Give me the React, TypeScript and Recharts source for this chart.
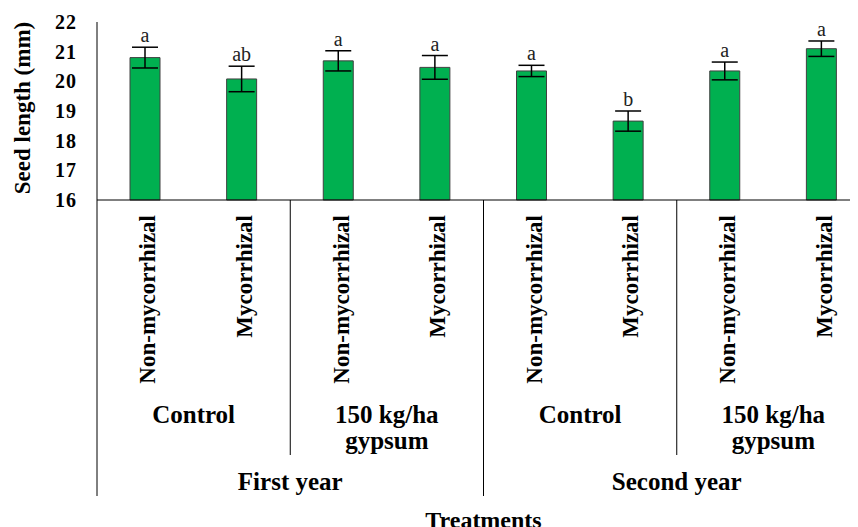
import { BarChart, Bar, XAxis, YAxis, ErrorBar, LabelList } from 'recharts';

// Seed length per treatment
const categories = [
  'Non-mycorrhizal', 'Mycorrhizal', 'Non-mycorrhizal', 'Mycorrhizal',
  'Non-mycorrhizal', 'Mycorrhizal', 'Non-mycorrhizal', 'Mycorrhizal',
];
const treatments = ['Control', '150 kg/ha\ngypsum', 'Control', '150 kg/ha\ngypsum'];
const years = ['First year', 'Second year'];
const seedLength = [20.8, 20.08, 20.69, 20.47, 20.35, 18.66, 20.35, 21.1];
const stdError = [0.35, 0.43, 0.34, 0.4, 0.19, 0.34, 0.3, 0.26];
const letters = ['a', 'ab', 'a', 'a', 'a', 'b', 'a', 'a'];
const yTicks = [16, 17, 18, 19, 20, 21, 22];

const data = categories.map((name, i) => ({
  name,
  value: seedLength[i],
  err: stdError[i],
  letter: letters[i],
}));

const FONT = '"Liberation Serif", "Times New Roman", serif';
const CHART_W = 880;
const CHART_H = 540;
const MARGIN = { top: 14, right: 18, bottom: 0, left: 0 };
const Y_AXIS_W = 89;
const X_AXIS_H = 348;
const PLOT_W = CHART_W - MARGIN.left - MARGIN.right - Y_AXIS_W;
const PLOT_H = CHART_H - MARGIN.top - MARGIN.bottom - X_AXIS_H;
const CAT_W = PLOT_W / categories.length;
const PX_PER_UNIT = PLOT_H / (yTicks[yTicks.length - 1] - yTicks[0]);

const CategoryTick = (props: any) => {
  const { x, y, payload } = props;
  const i = payload?.index ?? props.index ?? 0;
  const lx = x + 10;
  const ly = y + 15;
  const parts: any[] = [
    <text
      key="cat"
      x={lx}
      y={ly}
      transform={`rotate(-90 ${lx} ${ly})`}
      textAnchor="end"
      fontFamily={FONT}
      fontWeight="bold"
      fontSize={23}
      fill="#000"
    >
      {payload.value}
    </text>,
  ];

  if (i % 2 === 0) {
    const left = x - CAT_W / 2;
    const gx = x + CAT_W / 2;
    const lines = treatments[Math.floor(i / 2)].split('\n');
    lines.forEach((line, k) => {
      parts.push(
        <text
          key={`t${k}`}
          x={gx}
          y={y + 223 + k * 26}
          textAnchor="middle"
          fontFamily={FONT}
          fontWeight="bold"
          fontSize={25}
          fill="#000"
        >
          {line}
        </text>
      );
    });
    if (i % 4 !== 0) {
      parts.push(<line key="sd" x1={left} x2={left} y1={y} y2={y + 255} stroke="#000" strokeWidth={1} />);
    }
  }

  if (i % 4 === 0) {
    const left = x - CAT_W / 2;
    parts.push(<line key="ld" x1={left} x2={left} y1={y} y2={y + 296} stroke="#000" strokeWidth={1} />);
    parts.push(
      <text
        key="yr"
        x={x + 1.5 * CAT_W}
        y={y + 290}
        textAnchor="middle"
        fontFamily={FONT}
        fontWeight="bold"
        fontSize={25}
        fill="#000"
      >
        {years[Math.floor(i / 4)]}
      </text>
    );
  }

  return <g>{parts}</g>;
};

const LetterLabel = (props: any) => {
  const { x, y, width, value, index } = props;
  const err = stdError[index] ?? 0;
  return (
    <text
      x={x + width / 2}
      y={y - err * PX_PER_UNIT - 5}
      textAnchor="middle"
      fontFamily={FONT}
      fontSize={20}
      fill="#222"
    >
      {value}
    </text>
  );
};

export default function App() {
  return (
    <div style={{ width: 850, height: 519, overflow: 'hidden', background: '#fff' }}>
      <BarChart width={CHART_W} height={CHART_H} data={data} margin={MARGIN}>
        <XAxis
          dataKey="name"
          interval={0}
          height={X_AXIS_H}
          tickLine={false}
          tickSize={0}
          tickMargin={0}
          axisLine={{ stroke: '#000', strokeWidth: 1 }}
          tick={<CategoryTick />}
          label={{
            value: 'Treatments',
            position: 'insideBottom',
            offset: 20,
            fontFamily: FONT,
            fontWeight: 'bold',
            fontSize: 24,
            fill: '#000',
          }}
        />
        <YAxis
          width={Y_AXIS_W}
          domain={[16, 22]}
          ticks={yTicks}
          interval={0}
          tickLine={false}
          tickSize={0}
          tickMargin={20}
          axisLine={{ stroke: '#000', strokeWidth: 1 }}
          tick={{ fontFamily: FONT, fontWeight: 'bold', fontSize: 20, fill: '#000', letterSpacing: 1 }}
        />
        <text
          x={14}
          y={100}
          transform="rotate(-90 14 100)"
          textAnchor="middle"
          dominantBaseline="central"
          fontFamily={FONT}
          fontWeight="bold"
          fontSize={23}
          fill="#000"
        >
          Seed length (mm)
        </text>
        <Bar dataKey="value" fill="#00B050" stroke="#404040" strokeWidth={1} barSize={30} isAnimationActive={false}>
          <ErrorBar dataKey="err" width={13} stroke="#000" strokeWidth={1.5} direction="y" isAnimationActive={false} />
          <LabelList dataKey="letter" content={<LetterLabel />} />
        </Bar>
      </BarChart>
    </div>
  );
}
